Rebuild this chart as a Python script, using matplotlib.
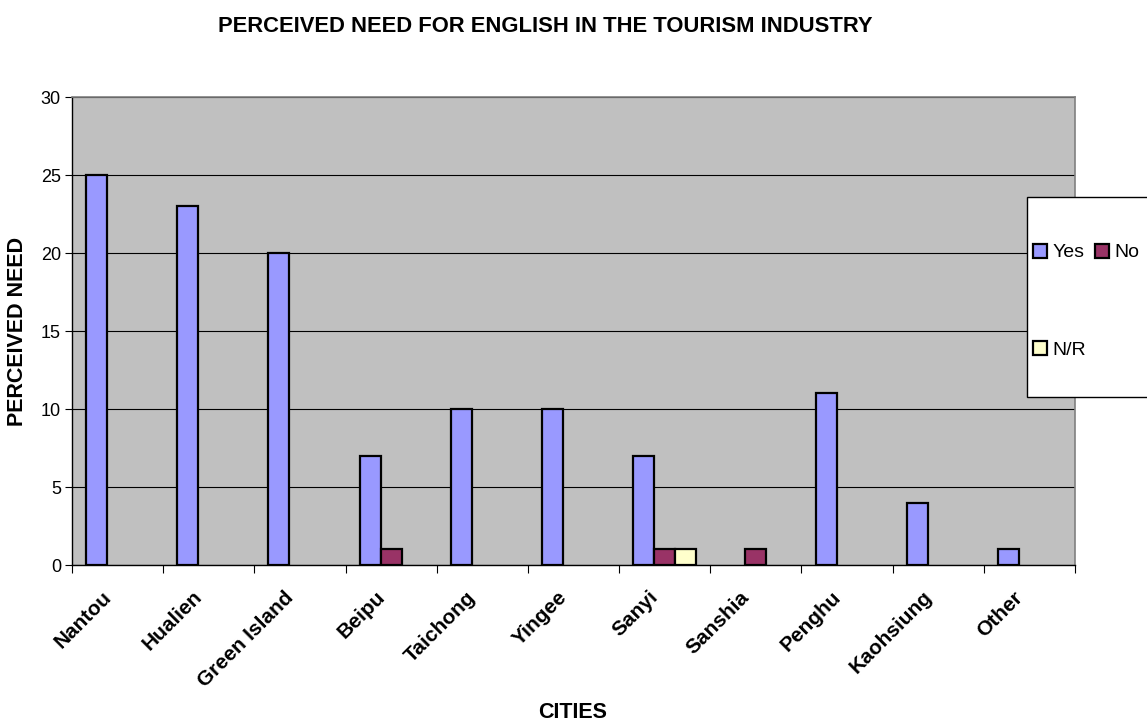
import numpy as np
import matplotlib.pyplot as plt
import matplotlib.transforms as mtransforms
from matplotlib.patches import Rectangle

plt.rcParams['font.family'] = ['Liberation Sans', 'DejaVu Sans']

cities = ['Nantou', 'Hualien', 'Green Island', 'Beipu', 'Taichong', 'Yingee',
          'Sanyi', 'Sanshia', 'Penghu', 'Kaohsiung', 'Other']
yes = [25, 23, 20, 7, 10, 10, 7, 0, 11, 4, 1]
no = [0, 0, 0, 1, 0, 0, 1, 1, 0, 0, 0]
nr = [0, 0, 0, 0, 0, 0, 1, 0, 0, 0, 0]

series = [('Yes', yes, '#9999FF'), ('No', no, '#993366'), ('N/R', nr, '#FFFFCC')]

W, H = 1147, 722
fig = plt.figure(figsize=(W / 100, H / 100), dpi=100)
ax = fig.add_axes([72 / W, 1 - 565 / H, (1075 - 72) / W, (565 - 97) / H])
ax.set_facecolor('#C0C0C0')

x = np.arange(len(cities))
bw = 0.23
handles = {}
for i, (name, vals, col) in enumerate(series):
    offs = (i - 1) * bw
    v = np.array(vals, dtype=float)
    bars = ax.bar(x + offs, np.where(v > 0, v, np.nan), bw, color=col,
                  edgecolor='black', linewidth=1.6, zorder=3)
    handles[name] = bars

ax.set_xlim(-0.5, len(cities) - 0.5)
ax.set_ylim(0, 30)
ax.set_yticks(range(0, 31, 5))
ax.yaxis.grid(True, color='black', linewidth=0.8, zorder=1)
ax.tick_params(axis='y', labelsize=13, length=5, direction='out', width=0.8, pad=3)

ax.set_xticks(x)
ax.set_xticklabels(cities, rotation=45, ha='right', rotation_mode='anchor',
                   fontsize=15, fontweight='bold')
ax.set_xticks(np.arange(-0.5, len(cities)), minor=True)
ax.tick_params(axis='x', which='major', length=0, pad=9)
ax.tick_params(axis='x', which='minor', length=6, width=0.8, direction='out')
# nudge the slanted city names a little left and down
shift = mtransforms.ScaledTranslation(-16 / 100, -10 / 100, fig.dpi_scale_trans)
for lbl in ax.get_xticklabels():
    lbl.set_transform(lbl.get_transform() + shift)

for s in ['top', 'right']:
    ax.spines[s].set_color('#808080')
    ax.spines[s].set_linewidth(1.2)
for s in ['left', 'bottom']:
    ax.spines[s].set_color('black')
    ax.spines[s].set_linewidth(1.0)

fig.text(545 / W, 1 - 27 / H, 'PERCEIVED NEED FOR ENGLISH IN THE TOURISM INDUSTRY',
         ha='center', va='center', fontsize=15.8, fontweight='bold')
fig.text(573 / W, 1 - 712 / H, 'CITIES', ha='center', va='center',
         fontsize=15.5, fontweight='bold')
fig.text(18 / W, 1 - 331 / H, 'PERCEIVED NEED', ha='center', va='center',
         rotation=90, fontsize=15.5, fontweight='bold')

# legend box sits over the right edge of the plot area
fig.patches.append(Rectangle((1027 / W, 1 - 397 / H), 140 / W, 200 / H,
                             transform=fig.transFigure, facecolor='white',
                             edgecolor='black', linewidth=1.0, zorder=5))
leg = fig.legend([handles['Yes'], handles['N/R'], handles['No']], ['Yes', 'N/R', 'No'],
                 ncol=2, loc='upper left', bbox_to_anchor=(1023 / W, 1 - 234 / H),
                 frameon=False, fontsize=14, handlelength=0.72, handleheight=0.72,
                 handletextpad=0.3, columnspacing=0.45, labelspacing=4.1,
                 borderpad=0)
leg.set_zorder(6)

fig.savefig('out.png', dpi=100)
